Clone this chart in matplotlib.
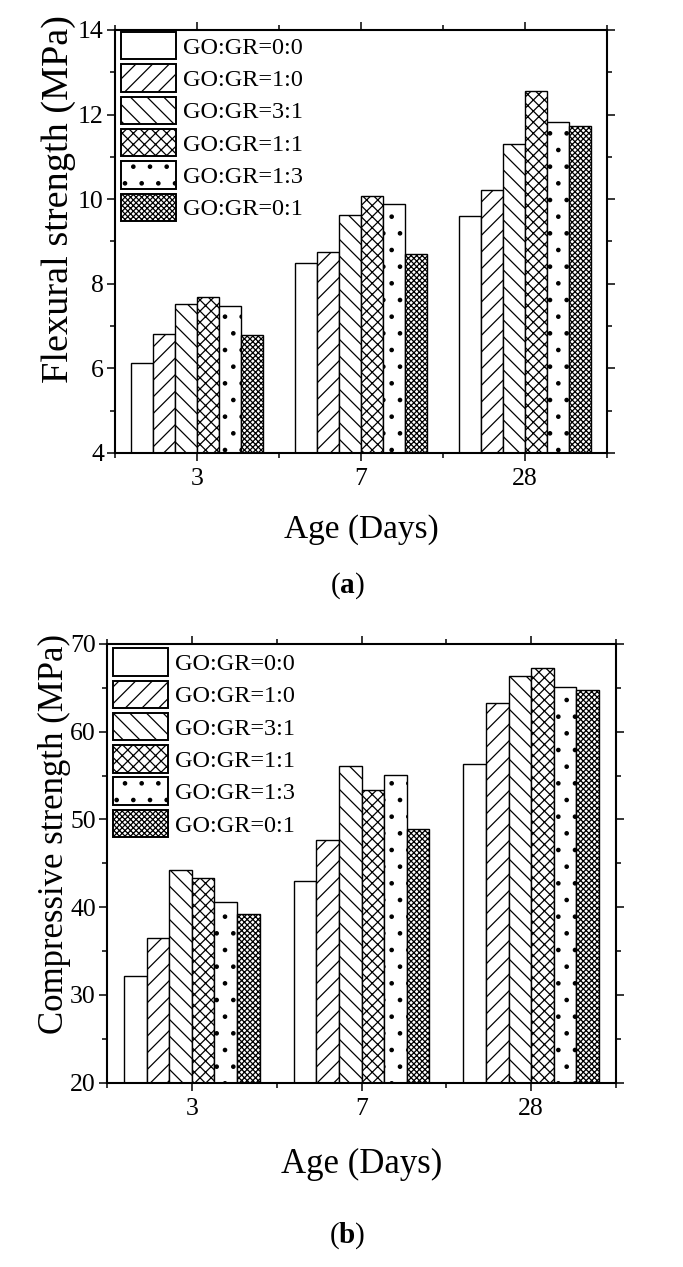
import matplotlib
matplotlib.use('Agg')
import matplotlib.pyplot as plt
from matplotlib.patches import Rectangle
from matplotlib.ticker import MultipleLocator, FixedLocator

plt.rcParams['font.family'] = ['Liberation Serif', 'DejaVu Serif']
plt.rcParams['mathtext.fontset'] = 'custom'
plt.rcParams['mathtext.rm'] = 'Liberation Serif'
plt.rcParams['mathtext.bf'] = 'Liberation Serif:bold'
plt.rcParams['hatch.linewidth'] = 0.9

ages = ['3', '7', '28']
mixes = ['GO:GR=0:0', 'GO:GR=1:0', 'GO:GR=3:1', 'GO:GR=1:1', 'GO:GR=1:3', 'GO:GR=0:1']
hatches = ['', '//', '\\\\', 'xxx', '.', 'xxxxxx']

# flexural strength (MPa), one list per mix, values at 3 / 7 / 28 days
flex_00 = [6.12, 8.48, 9.61]
flex_10 = [6.82, 8.74, 10.21]
flex_31 = [7.53, 9.63, 11.30]
flex_11 = [7.68, 10.07, 12.56]
flex_13 = [7.47, 9.89, 11.83]
flex_01 = [6.78, 8.71, 11.74]

# compressive strength (MPa)
comp_00 = [32.1, 43.0, 56.3]
comp_10 = [36.5, 47.6, 63.3]
comp_31 = [44.2, 56.1, 66.3]
comp_11 = [43.3, 53.3, 67.3]
comp_13 = [40.6, 55.1, 65.1]
comp_01 = [39.2, 48.9, 64.7]

flexural = [flex_00, flex_10, flex_31, flex_11, flex_13, flex_01]
compressive = [comp_00, comp_10, comp_31, comp_11, comp_13, comp_01]


def draw_panel(ax, series, ylabel, ylabel_size, ylim, ystep, ylabel_xy,
               xlabel_size, xlabel_pad, leg_anchor):
    width = 0.8 / len(series)
    x = range(len(ages))
    for i, vals in enumerate(series):
        offs = [xi - 0.4 + width * (i + 0.5) for xi in x]
        ax.bar(offs, vals, width, color='white', edgecolor='black',
               linewidth=1.0, hatch=hatches[i])

    ax.set_xlim(-0.5, 2.5)
    ax.set_ylim(*ylim)
    ax.set_xticks(list(x))
    ax.set_xticklabels(ages)
    ax.xaxis.set_minor_locator(FixedLocator([-0.5, 0.5, 1.5, 2.5]))
    ax.yaxis.set_major_locator(MultipleLocator(ystep))
    ax.yaxis.set_minor_locator(MultipleLocator(ystep / 2))
    ax.tick_params(which='both', direction='out', top=True, right=True,
                   labelsize=18.5, width=1.1)
    ax.tick_params(which='major', length=6)
    ax.tick_params(which='minor', length=3.5)
    ax.tick_params(axis='x', pad=5)
    ax.tick_params(axis='y', pad=2)
    for sp in ax.spines.values():
        sp.set_linewidth(1.5)

    ax.set_ylabel(ylabel, fontsize=ylabel_size)
    ax.yaxis.set_label_coords(*ylabel_xy)
    ax.set_xlabel('Age (Days)', fontsize=xlabel_size, labelpad=xlabel_pad)

    handles = [Rectangle((0, 0), 1, 1, facecolor='white', edgecolor='black',
                         linewidth=1.4, hatch=h) for h in hatches]
    ax.legend(handles, mixes, loc='upper left', bbox_to_anchor=leg_anchor,
              frameon=False, fontsize=17.5, handlelength=2.25, handleheight=1.36,
              labelspacing=0.2, handletextpad=0.3, borderpad=0, borderaxespad=0)


fig = plt.figure(figsize=(6.83, 12.67), dpi=100)

ax1 = fig.add_axes([0.1684, 0.6425, 0.7204, 0.3339])
draw_panel(ax1, flexural, 'Flexural strength (MPa)', 27.5, (4, 14), 2, (-0.08, 0.60),
           24, 17, (0.013, 0.995))

ax2 = fig.add_axes([0.1567, 0.1455, 0.7452, 0.3463])
draw_panel(ax2, compressive, 'Compressive strength (MPa)', 25, (20, 70), 10, (-0.07, 0.567),
           25, 20, (0.012, 0.99))

fig.text(347 / 683, 1 - 586 / 1267, r'($\mathbf{a}$)', fontsize=21, ha='center', va='center')
fig.text(347 / 683, 1 - 1236 / 1267, r'($\mathbf{b}$)', fontsize=21, ha='center', va='center')

fig.savefig('out.png', dpi=100)
plt.close(fig)
